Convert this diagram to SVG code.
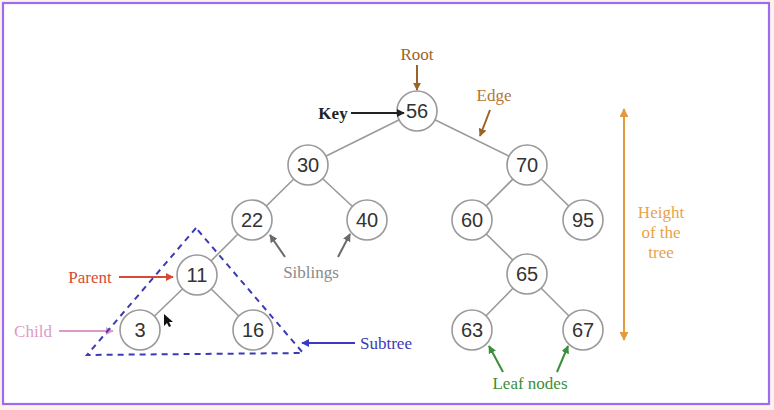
<svg xmlns="http://www.w3.org/2000/svg" width="774" height="410" viewBox="0 0 774 410">
<style>
.node circle{fill:#fff;stroke:#9a9a9a;stroke-width:1.6}
.node text{font-family:"Liberation Sans",Arial,sans-serif;font-size:20px;fill:#333;text-anchor:middle;dominant-baseline:central}
.lbl{font-family:"Liberation Serif","Times New Roman",serif;font-size:17px;text-anchor:middle}
.edge{stroke:#9a9a9a;stroke-width:1.6;fill:none}
</style>
<defs>
<marker id="ab" viewBox="0 0 10 10" refX="9" refY="5" markerWidth="4" markerHeight="4" orient="auto-start-reverse"><path d="M0,0 L10,5 L0,10 z" fill="#222"/></marker>
<marker id="abr" viewBox="0 0 10 10" refX="9" refY="5" markerWidth="4" markerHeight="4" orient="auto-start-reverse"><path d="M0,0 L10,5 L0,10 z" fill="#9a6428"/></marker>
<marker id="aor" viewBox="0 0 10 10" refX="9" refY="5" markerWidth="4.5" markerHeight="4.5" orient="auto-start-reverse"><path d="M0,0 L10,5 L0,10 z" fill="#e39a3c"/></marker>
<marker id="are" viewBox="0 0 10 10" refX="9" refY="5" markerWidth="4" markerHeight="4" orient="auto-start-reverse"><path d="M0,0 L10,5 L0,10 z" fill="#d84a34"/></marker>
<marker id="api" viewBox="0 0 10 10" refX="9" refY="5" markerWidth="4" markerHeight="4" orient="auto-start-reverse"><path d="M0,0 L10,5 L0,10 z" fill="#de9ac4"/></marker>
<marker id="agr" viewBox="0 0 10 10" refX="9" refY="5" markerWidth="4" markerHeight="4" orient="auto-start-reverse"><path d="M0,0 L10,5 L0,10 z" fill="#6a6a6a"/></marker>
<marker id="abl" viewBox="0 0 10 10" refX="9" refY="5" markerWidth="4" markerHeight="4" orient="auto-start-reverse"><path d="M0,0 L10,5 L0,10 z" fill="#3a3ac4"/></marker>
<marker id="agn" viewBox="0 0 10 10" refX="9" refY="5" markerWidth="4" markerHeight="4" orient="auto-start-reverse"><path d="M0,0 L10,5 L0,10 z" fill="#3a8f3a"/></marker>
</defs>
<rect x="0" y="0" width="774" height="410" fill="#fdf3ec"/>
<rect x="3" y="3" width="766" height="401" fill="#fff" stroke="#9b6cf0" stroke-width="2.2"/>
<g id="connectors">
<line class="edge" x1="417" y1="111" x2="308" y2="165"/>
<line class="edge" x1="417" y1="111" x2="527" y2="165"/>
<line class="edge" x1="308" y1="165" x2="252" y2="220"/>
<line class="edge" x1="308" y1="165" x2="367" y2="220"/>
<line class="edge" x1="527" y1="165" x2="472" y2="220"/>
<line class="edge" x1="527" y1="165" x2="583" y2="220"/>
<line class="edge" x1="252" y1="220" x2="197" y2="275"/>
<line class="edge" x1="472" y1="220" x2="527" y2="274"/>
<line class="edge" x1="197" y1="275" x2="140" y2="330"/>
<line class="edge" x1="197" y1="275" x2="253" y2="330"/>
<line class="edge" x1="527" y1="274" x2="472" y2="330"/>
<line class="edge" x1="527" y1="274" x2="583" y2="330"/>
</g>
<g id="n56" class="node"><circle cx="417" cy="111" r="20"/><text x="417" y="111">56</text></g>
<g id="n30" class="node"><circle cx="308" cy="165" r="20"/><text x="308" y="165">30</text></g>
<g id="n70" class="node"><circle cx="527" cy="165" r="20"/><text x="527" y="165">70</text></g>
<g id="n22" class="node"><circle cx="252" cy="220" r="20"/><text x="252" y="220">22</text></g>
<g id="n40" class="node"><circle cx="367" cy="220" r="20"/><text x="367" y="220">40</text></g>
<g id="n60" class="node"><circle cx="472" cy="220" r="20"/><text x="472" y="220">60</text></g>
<g id="n95" class="node"><circle cx="583" cy="220" r="20"/><text x="583" y="220">95</text></g>
<g id="n11" class="node"><circle cx="197" cy="275" r="20"/><text x="197" y="275">11</text></g>
<g id="n65" class="node"><circle cx="527" cy="274" r="20"/><text x="527" y="274">65</text></g>
<g id="n3" class="node"><circle cx="140" cy="330" r="20"/><text x="140" y="330">3</text></g>
<g id="n16" class="node"><circle cx="253" cy="330" r="20"/><text x="253" y="330">16</text></g>
<g id="n63" class="node"><circle cx="472" cy="330" r="20"/><text x="472" y="330">63</text></g>
<g id="n67" class="node"><circle cx="583" cy="330" r="20"/><text x="583" y="330">67</text></g>
<g id="annotations">
<text class="lbl" x="417" y="60" fill="#9a6428">Root</text>
<line x1="417" y1="65" x2="417" y2="90" stroke="#9a6428" stroke-width="2" marker-end="url(#abr)"/>
<text class="lbl" x="333" y="119" fill="#222" font-weight="bold">Key</text>
<line x1="351" y1="113" x2="404" y2="113" stroke="#222" stroke-width="2" marker-end="url(#ab)"/>
<text class="lbl" x="494" y="101" fill="#b27634">Edge</text>
<line x1="490" y1="110" x2="480" y2="136" stroke="#9a6428" stroke-width="2" marker-end="url(#abr)"/>
<line x1="624" y1="109" x2="624" y2="340" stroke="#e39a3c" stroke-width="2" marker-start="url(#aor)" marker-end="url(#aor)"/>
<text class="lbl" x="661" y="218" fill="#e8a24a">Height</text>
<text class="lbl" x="661" y="238" fill="#e8a24a">of the</text>
<text class="lbl" x="661" y="258" fill="#e8a24a">tree</text>
<text class="lbl" x="90" y="283" fill="#d84a34">Parent</text>
<line x1="119" y1="277" x2="173" y2="277" stroke="#d84a34" stroke-width="2" marker-end="url(#are)"/>
<text class="lbl" x="33" y="337" fill="#de9ac4">Child</text>
<line x1="59" y1="331" x2="113" y2="331" stroke="#de9ac4" stroke-width="2" marker-end="url(#api)"/>
<text class="lbl" x="311" y="278" fill="#8a8a8a">Siblings</text>
<line x1="285" y1="257" x2="270" y2="235" stroke="#6a6a6a" stroke-width="2" marker-end="url(#agr)"/>
<line x1="338" y1="257" x2="350" y2="234" stroke="#6a6a6a" stroke-width="2" marker-end="url(#agr)"/>
<polygon points="196,228 87,355 303,353" fill="none" stroke="#3a3ab8" stroke-width="2" stroke-dasharray="6,5"/>
<text class="lbl" x="386" y="349" fill="#3a3ab8">Subtree</text>
<line x1="355" y1="343" x2="302" y2="343" stroke="#3a3ac4" stroke-width="2" marker-end="url(#abl)"/>
<text class="lbl" x="530" y="389" fill="#3a8f3a">Leaf nodes</text>
<line x1="503" y1="372" x2="489" y2="346" stroke="#3a8f3a" stroke-width="2" marker-end="url(#agn)"/>
<line x1="557" y1="372" x2="568" y2="346" stroke="#3a8f3a" stroke-width="2" marker-end="url(#agn)"/>
<polygon points="164,314 164,326 167,323 169,327 171,326 169,322 173,322" fill="#111"/>
</g>
</svg>
